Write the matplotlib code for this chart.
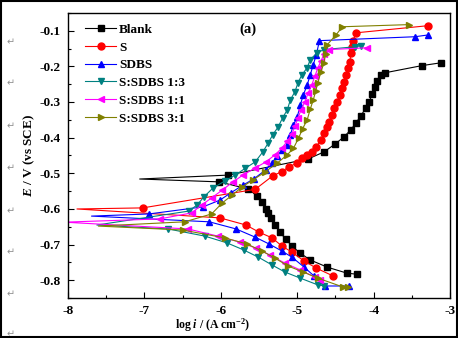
import numpy as np
import matplotlib
matplotlib.use("Agg")
import matplotlib.pyplot as plt
from matplotlib.patches import Rectangle
from matplotlib.ticker import MultipleLocator

plt.rcParams['font.family'] = ['Liberation Serif', 'DejaVu Sans']
plt.rcParams['font.weight'] = 'bold'
plt.rcParams['mathtext.fontset'] = 'custom'
plt.rcParams['mathtext.rm'] = 'Liberation Serif:bold'
plt.rcParams['mathtext.it'] = 'Liberation Serif:italic:bold'
plt.rcParams['mathtext.bf'] = 'Liberation Serif:bold'

# polarisation curves: log i (A cm-2) and E (V vs SCE)
# each path: cathodic end -> corrosion potential tip -> anodic end
blank_logi = [-4.22, -4.35, -4.61, -4.83, -4.96, -5.07, -5.15, -5.23, -5.29, -5.34, -5.38, -5.41,
              -5.46, -5.53, -5.64, -6.02, -7.06, -5.90, -4.86, -4.65, -4.50, -4.39, -4.30, -4.23,
              -4.17, -4.10, -4.06, -4.02, -3.98, -3.96, -3.90, -3.85, -3.37, -3.12]
blank_E = [-0.783, -0.780, -0.763, -0.743, -0.724, -0.704, -0.684, -0.665, -0.645, -0.625, -0.612, -0.600,
           -0.580, -0.563, -0.544, -0.524, -0.516, -0.505, -0.460, -0.440, -0.417, -0.398, -0.378, -0.358,
           -0.339, -0.316, -0.300, -0.277, -0.257, -0.240, -0.224, -0.218, -0.198, -0.190]

s_logi = [-4.53, -4.75, -4.91, -5.07, -5.20, -5.33, -5.50, -5.67, -6.01, -7.88, -7.02, -5.55,
          -5.32, -5.20, -5.11, -5.00, -4.94, -4.87, -4.81, -4.75, -4.69, -4.65, -4.61, -4.58,
          -4.55, -4.52, -4.48, -4.44, -4.41, -4.39, -4.36, -4.34, -4.31, -4.30, -4.28, -4.27,
          -4.23, -3.29]
s_E = [-0.788, -0.766, -0.746, -0.721, -0.704, -0.681, -0.665, -0.645, -0.625, -0.600, -0.597, -0.545,
       -0.507, -0.495, -0.482, -0.471, -0.457, -0.448, -0.440, -0.426, -0.406, -0.387, -0.370, -0.356,
       -0.336, -0.316, -0.299, -0.280, -0.260, -0.243, -0.224, -0.204, -0.187, -0.162, -0.145, -0.128,
       -0.106, -0.086]

sdbs_logi = [-4.32, -4.64, -4.78, -4.91, -5.07, -5.20, -5.37, -5.55, -5.80, -6.15, -7.69, -6.94,
             -6.23, -6.01, -5.87, -5.71, -5.57, -5.41, -5.33, -5.26, -5.20, -5.13, -5.09, -5.05,
             -5.00, -4.96, -4.92, -4.87, -4.83, -4.79, -4.75, -4.71, -3.46, -3.29]
sdbs_E = [-0.816, -0.816, -0.788, -0.763, -0.735, -0.718, -0.698, -0.679, -0.656, -0.636, -0.620, -0.614,
          -0.594, -0.575, -0.555, -0.533, -0.516, -0.490, -0.470, -0.451, -0.435, -0.420, -0.392, -0.364,
          -0.342, -0.308, -0.280, -0.252, -0.224, -0.195, -0.167, -0.128, -0.117, -0.112]

r13_logi = [-4.65, -4.73, -4.96, -5.16, -5.33, -5.51, -5.70, -5.92, -6.21, -6.69, -7.62, -6.42,
            -6.31, -6.22, -6.10, -5.95, -5.81, -5.68, -5.55, -5.45, -5.38, -5.32, -5.25, -5.19,
            -5.13, -5.09, -5.03, -4.99, -4.94, -4.87, -4.83, -4.74, -4.65, -4.24, -4.16]
r13_E = [-0.816, -0.813, -0.794, -0.777, -0.757, -0.735, -0.715, -0.695, -0.676, -0.656, -0.645, -0.606,
         -0.589, -0.566, -0.541, -0.522, -0.505, -0.486, -0.468, -0.440, -0.415, -0.392, -0.370, -0.344,
         -0.322, -0.294, -0.271, -0.246, -0.224, -0.204, -0.181, -0.162, -0.153, -0.145, -0.142]

r11_logi = [-4.70, -4.77, -4.96, -5.16, -5.36, -5.54, -5.75, -6.04, -6.43, -8.05, -6.80, -6.38,
            -6.25, -6.12, -5.98, -5.84, -5.71, -5.55, -5.41, -5.29, -5.20, -5.13, -5.07, -5.03,
            -4.99, -4.95, -4.90, -4.86, -4.81, -4.77, -4.73, -4.69, -4.65, -4.58, -4.09]
r11_E = [-0.800, -0.791, -0.771, -0.752, -0.729, -0.710, -0.693, -0.676, -0.656, -0.637, -0.628, -0.611,
         -0.589, -0.569, -0.547, -0.524, -0.505, -0.485, -0.468, -0.448, -0.429, -0.410, -0.390, -0.367,
         -0.345, -0.322, -0.300, -0.276, -0.252, -0.228, -0.204, -0.185, -0.165, -0.153, -0.148]

r31_logi = [-4.33, -4.40, -4.73, -4.92, -5.12, -5.29, -5.46, -5.66, -5.95, -6.50, -7.60, -6.47,
            -6.12, -5.98, -5.85, -5.72, -5.58, -5.42, -5.26, -5.13, -5.05, -4.98, -4.93, -4.87,
            -4.83, -4.79, -4.76, -4.73, -4.69, -4.65, -4.63, -4.61, -4.49, -4.41, -3.54]
r31_E = [-0.818, -0.819, -0.794, -0.777, -0.760, -0.738, -0.718, -0.698, -0.681, -0.659, -0.648, -0.636,
         -0.614, -0.583, -0.561, -0.538, -0.519, -0.496, -0.471, -0.448, -0.430, -0.400, -0.375, -0.350,
         -0.320, -0.294, -0.270, -0.246, -0.215, -0.190, -0.165, -0.140, -0.111, -0.089, -0.083]

labels = ['Blank', 'S', 'SDBS', 'S:SDBS 1:3', 'S:SDBS 1:1', 'S:SDBS 3:1']
colors = ['black', 'red', 'blue', '#008080', '#ff00ff', '#808000']
markers = ['s', 'o', '^', 'v', '<', '>']
series = [(blank_logi, blank_E), (s_logi, s_E), (sdbs_logi, sdbs_E),
          (r13_logi, r13_E), (r11_logi, r11_E), (r31_logi, r31_E)]

xticks = [-8, -7, -6, -5, -4, -3]
yticks = [-0.8, -0.7, -0.6, -0.5, -0.4, -0.3, -0.2, -0.1]

fig = plt.figure(figsize=(4.58, 3.38), dpi=100)
ax = fig.add_axes([0.148, 0.118, 0.835, 0.844])

for (x, y), lab, c, m in zip(series, labels, colors, markers):
    tip = int(np.argmin(x))
    marks = [i for i in range(len(x)) if i != tip]
    ax.plot(x, y, color=c, lw=0.8, marker=m, markersize=5, markevery=marks,
            markeredgecolor=c, markerfacecolor=c, label=lab)

ax.set_xlim(-8, -3)
ax.set_ylim(-0.85, -0.05)
ax.set_xticks(xticks)
ax.set_xticklabels([f'{t:d}' for t in xticks])
ax.set_yticks(yticks)
ax.set_yticklabels([f'{t:.1f}' for t in yticks])
ax.xaxis.set_minor_locator(MultipleLocator(0.5))
ax.yaxis.set_minor_locator(MultipleLocator(0.05))
ax.tick_params(which='both', direction='in', top=False, right=False, labelsize=9.5)
ax.tick_params(which='major', length=4, width=0.8, pad=5)
ax.tick_params(which='minor', length=2.5, width=0.8)
for sp in ax.spines.values():
    sp.set_linewidth(1.0)

ax.set_ylabel(r'$E$ / V (vs SCE)', fontsize=9.5, fontweight='bold', labelpad=2)
fig.text(213 / 458, 1 - 325 / 338, r'log $i$ / (A cm$^{-2}$)', fontsize=8.5,
         fontweight='bold', ha='center', va='center')
ax.text(0.47, 0.944, '(a)', transform=ax.transAxes, fontsize=10.5, fontweight='bold',
        ha='center', va='center')

leg = ax.legend(loc='upper left', bbox_to_anchor=(0.02, 0.995), frameon=False,
                fontsize=9.5, handlelength=2.4, handletextpad=0.2, labelspacing=0.42,
                borderpad=0.2, markerscale=1.0)

# stray paragraph marks of the source document
for yy in [42, 83, 126, 168, 211, 252, 294, 334]:
    fig.text(11 / 458, 1 - yy / 338, '\u21b5', fontsize=7, color='#909090',
             family='DejaVu Sans', fontweight='normal', ha='center', va='center')

fig.patches.append(Rectangle((0.003, 0.004), 0.994, 0.992, transform=fig.transFigure,
                             fill=False, edgecolor='black', linewidth=1.5))

fig.savefig('out.png', dpi=100)
